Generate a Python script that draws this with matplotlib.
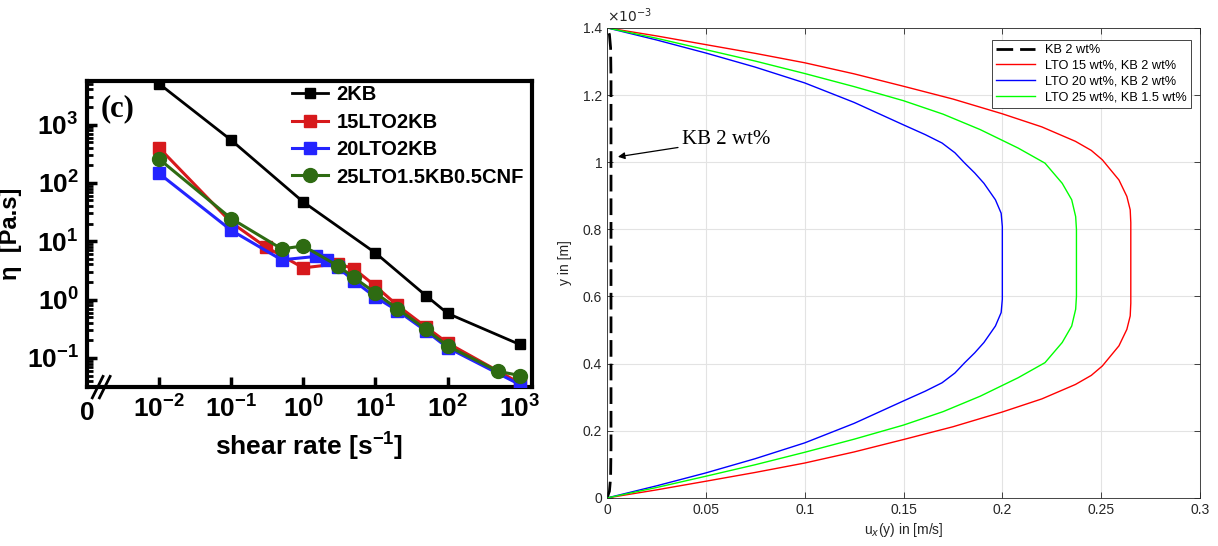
# viscosity curves (left) and velocity profiles (right)

import numpy as np
import matplotlib
matplotlib.use('Agg')
import matplotlib.pyplot as plt

plt.rcParams['font.family'] = ['Liberation Sans', 'DejaVu Sans']
plt.rcParams['mathtext.fontset'] = 'custom'
plt.rcParams['mathtext.rm'] = 'Liberation Sans:bold'
plt.rcParams['mathtext.it'] = 'Liberation Sans:bold'
plt.rcParams['mathtext.bf'] = 'Liberation Sans:bold'

# ---- left panel data: viscosity vs shear rate
rate_2kb = [0.01, 0.1, 1, 10, 50, 100, 1000]
eta_2kb = [5000, 540, 47, 6.3, 1.17, 0.58, 0.17]
rate_15 = [0.01, 0.1, 0.3, 1, 3, 5, 10, 20, 50, 100, 1000]
eta_15 = [400, 21, 8, 3.5, 4.1, 3.4, 1.7, 0.8, 0.34, 0.18, 0.037]
rate_20 = [0.01, 0.1, 0.5, 1.5, 2.1, 3, 5, 10, 20, 50, 100, 1000]
eta_20 = [145, 15.4, 4.8, 5.5, 4.7, 3.6, 2.1, 1.1, 0.65, 0.29, 0.15, 0.035]
rate_25 = [0.01, 0.1, 0.5, 1, 3, 5, 10, 20, 50, 100, 500, 1000]
eta_25 = [257, 24.5, 7.4, 8.3, 3.8, 2.4, 1.3, 0.7, 0.31, 0.16, 0.059, 0.05]
names_left = ['2KB', '15LTO2KB', '20LTO2KB', '25LTO1.5KB0.5CNF']

# ---- right panel data: velocity profiles, y in units of 1e-3 m
u_kb = [0, 0.0012, 0.0018, 0.002, 0.002, 0.0018, 0.0012, 0]
y_kb = [0, 0.02, 0.06, 0.15, 1.25, 1.34, 1.38, 1.4]
u_15 = [0, 0.025, 0.05, 0.075, 0.1, 0.125, 0.15, 0.175, 0.2, 0.22, 0.237, 0.245,
        0.2506, 0.259, 0.263, 0.2647, 0.265,
        0.265, 0.2647, 0.263, 0.259, 0.2506, 0.245, 0.237, 0.22,
        0.2, 0.175, 0.15, 0.125, 0.1, 0.075, 0.05, 0.025, 0]
y_15 = [0, 0.024, 0.0498, 0.076, 0.104, 0.137, 0.174, 0.212, 0.256, 0.295, 0.338, 0.365,
        0.393, 0.453, 0.502, 0.542, 0.58,
        0.82, 0.858, 0.898, 0.947, 1.007, 1.035, 1.062, 1.105,
        1.144, 1.188, 1.226, 1.263, 1.296, 1.324, 1.350, 1.376, 1.4]
u_20 = [0, 0.025, 0.05, 0.075, 0.1, 0.125, 0.15, 0.161, 0.1695, 0.176, 0.181, 0.186,
        0.1907, 0.1965, 0.1994, 0.2,
        0.2, 0.1994, 0.1965, 0.1907, 0.186, 0.181, 0.176, 0.1695, 0.161,
        0.15, 0.125, 0.1, 0.075, 0.05, 0.025, 0]
y_20 = [0, 0.036, 0.0746, 0.117, 0.164, 0.222, 0.289, 0.318, 0.343, 0.372, 0.403, 0.432,
        0.463, 0.512, 0.552, 0.592,
        0.808, 0.848, 0.888, 0.937, 0.968, 0.997, 1.028, 1.057, 1.082,
        1.111, 1.178, 1.236, 1.283, 1.325, 1.364, 1.4]
u_25 = [0, 0.025, 0.05, 0.075, 0.1, 0.125, 0.15, 0.17, 0.1888, 0.208, 0.2216, 0.2303,
        0.2351, 0.2371, 0.2375,
        0.2375, 0.2371, 0.2351, 0.2303, 0.2216, 0.208, 0.1888, 0.17,
        0.15, 0.125, 0.1, 0.075, 0.05, 0.025, 0]
y_25 = [0, 0.031, 0.0647, 0.099, 0.136, 0.175, 0.217, 0.257, 0.303, 0.358, 0.403, 0.463,
        0.512, 0.562, 0.6,
        0.8, 0.838, 0.888, 0.937, 0.997, 1.042, 1.097, 1.143,
        1.183, 1.225, 1.264, 1.301, 1.335, 1.369, 1.4]
names_right = ['KB 2 wt%', 'LTO 15 wt%, KB 2 wt%', 'LTO 20 wt%, KB 2 wt%', 'LTO 25 wt%, KB 1.5 wt%']

fig = plt.figure(figsize=(12.18, 5.46), dpi=100)

# ================= left panel
ax1 = fig.add_axes([0.0714, 0.291, 0.3654, 0.561])
ax1.set_xscale('log')
ax1.set_yscale('log')
ax1.plot(rate_2kb, eta_2kb, '-s', color='black', lw=2, ms=7, label=names_left[0], zorder=3)
ax1.plot(rate_15, eta_15, '-s', color='#d7191c', lw=2.2, ms=8, label=names_left[1], zorder=4)
ax1.plot(rate_20, eta_20, '-s', color='#2424ff', lw=2.2, ms=8, label=names_left[2], zorder=5)
ax1.plot(rate_25, eta_25, '-o', color='#2e6b12', lw=2.2, ms=10, label=names_left[3], zorder=6)
ax1.set_xlim(10**-3, 10**3.17)
ax1.set_ylim(10**-1.5, 10**3.75)
ax1.set_xticks([1e-2, 1e-1, 1e0, 1e1, 1e2, 1e3])
ax1.set_xticklabels([r'$10^{-2}$', r'$10^{-1}$', r'$10^{0}$', r'$10^{1}$', r'$10^{2}$', r'$10^{3}$'])
ax1.set_yticks([1e-1, 1e0, 1e1, 1e2, 1e3])
ax1.set_yticklabels([r'$10^{-1}$', r'$10^{0}$', r'$10^{1}$', r'$10^{2}$', r'$10^{3}$'])
ax1.tick_params(which='major', direction='in', length=7, width=2.5, labelsize=19, pad=6,
                top=False, right=False)
ax1.tick_params(which='minor', direction='in', length=4, width=2, top=False, right=False)
for sp in ax1.spines.values():
    sp.set_linewidth(3)
ax1.text(0.0, -0.045, '0', transform=ax1.transAxes, fontsize=19, fontweight='bold',
         ha='center', va='top')
# axis break marks
for dx in [0.024, 0.040]:
    ax1.plot([dx - 0.012, dx + 0.012], [-0.035, 0.035], transform=ax1.transAxes,
             color='black', lw=2, clip_on=False)
ax1.set_xlabel('shear rate [s$^{-1}$]', fontsize=19, fontweight='bold', labelpad=6)
ax1.set_ylabel('η  [Pa.s]', fontsize=17, fontweight='bold')
ax1.yaxis.set_label_coords(-0.145, 0.5)
ax1.text(0.03, 0.955, '(c)', transform=ax1.transAxes, family='Liberation Serif',
         fontsize=22, fontweight='bold', va='top')
leg1 = ax1.legend(loc='upper left', bbox_to_anchor=(0.42, 1.045), frameon=False,
                  prop={'weight': 'bold', 'size': 14.5}, handlelength=1.8, handletextpad=0.4,
                  labelspacing=0.42)

# ================= right panel
ax2 = fig.add_axes([0.4984, 0.088, 0.4868, 0.861])
ax2.plot(u_kb, y_kb, '--', color='black', lw=2, dashes=(6, 2.5), label=names_right[0])
ax2.plot(u_15, y_15, '-', color='#ff0000', lw=1, label=names_right[1])
ax2.plot(u_20, y_20, '-', color='#0000ff', lw=1, label=names_right[2])
ax2.plot(u_25, y_25, '-', color='#00ff00', lw=1, label=names_right[3])
ax2.set_xlim(0, 0.3)
ax2.set_ylim(0, 1.4)
ax2.set_xticks(np.arange(0, 0.31, 0.05))
ax2.set_xticklabels(['0', '0.05', '0.1', '0.15', '0.2', '0.25', '0.3'])
ax2.set_yticks(np.arange(0, 1.41, 0.2))
ax2.set_yticklabels(['0', '0.2', '0.4', '0.6', '0.8', '1', '1.2', '1.4'])
ax2.grid(True, color='#e3e3e3', lw=0.8)
ax2.set_axisbelow(True)
ax2.tick_params(direction='in', length=4, width=0.6, labelsize=10, colors='#262626',
                top=True, right=True)
for sp in ax2.spines.values():
    sp.set_linewidth(0.6)
    sp.set_color('#262626')
ax2.text(0.0, 1.006, r'$\times10^{-3}$', transform=ax2.transAxes, fontsize=10,
         color='#262626', math_fontfamily='dejavusans', va='bottom', ha='left')
ax2.set_xlabel(r'u$_{x}$(y) in [m/s]', fontsize=10, color='#262626', labelpad=3)
ax2.xaxis.label.set_math_fontfamily('dejavusans')
ax2.set_ylabel('y in [m]', fontsize=10, color='#262626', labelpad=8)
ax2.annotate('KB 2 wt%', xy=(0.0055, 1.016), xytext=(0.038, 1.066),
             family='Liberation Serif', fontsize=15, va='center',
             arrowprops=dict(arrowstyle='-|>', color='black', lw=0.9, mutation_scale=10,
                             shrinkA=1, shrinkB=0))
leg2 = ax2.legend(loc='upper right', bbox_to_anchor=(0.985, 0.975), fontsize=9.2,
                  fancybox=False, framealpha=1, edgecolor='#262626',
                  handlelength=3.0, borderpad=0.35, labelspacing=0.3, borderaxespad=0)
leg2.get_frame().set_linewidth(0.6)

fig.savefig('out.png', dpi=100)
plt.close(fig)
